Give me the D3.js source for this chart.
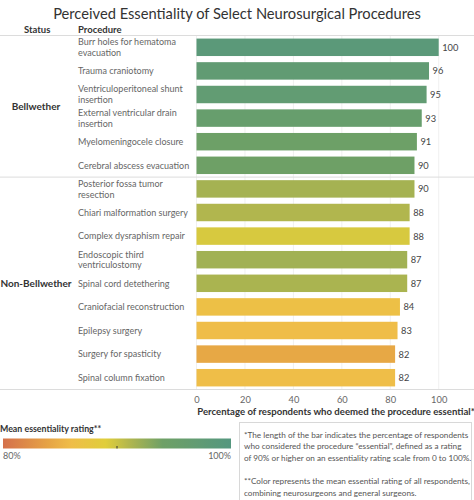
<!DOCTYPE html>
<html>
<head>
<meta charset="utf-8">
<script src="https://cdn.jsdelivr.net/npm/d3@7"></script>
<style>
html,body{margin:0;padding:0;background:#fff;}
svg{display:block;font-family:Lato,"Open Sans",sans-serif;}
</style>
</head>
<body>
<svg id="chart" width="474" height="500"></svg>
<script>
const procedures = [
  ["Burr holes for hematoma", "evacuation"],
  ["Trauma craniotomy"],
  ["Ventriculoperitoneal shunt", "insertion"],
  ["External ventricular drain", "insertion"],
  ["Myelomeningocele closure"],
  ["Cerebral abscess evacuation"],
  ["Posterior fossa tumor", "resection"],
  ["Chiari malformation surgery"],
  ["Complex dysraphism repair"],
  ["Endoscopic third", "ventriculostomy"],
  ["Spinal cord detethering"],
  ["Craniofacial reconstruction"],
  ["Epilepsy surgery"],
  ["Surgery for spasticity"],
  ["Spinal column fixation"]
];
const statuses = ["Bellwether","Bellwether","Bellwether","Bellwether","Bellwether","Bellwether",
  "Non-Bellwether","Non-Bellwether","Non-Bellwether","Non-Bellwether","Non-Bellwether",
  "Non-Bellwether","Non-Bellwether","Non-Bellwether","Non-Bellwether"];
const percentEssential = [100, 96, 95, 93, 91, 90, 90, 88, 88, 87, 87, 84, 83, 82, 82];
const meanRating = [98.5, 97.2, 97.0, 95.6, 94.3, 94.0, 91.6, 91.1, 89.4, 91.8, 91.4, 86.5, 86.0, 84.3, 86.1];
const statusGroups = ["Bellwether", "Non-Bellwether"];
const xTicks = [0, 20, 40, 60, 80, 100];
const legendDomain = [80, 100];
const legendLabels = ["80%", "100%"];
const titleText = "Perceived Essentiality of Select Neurosurgical Procedures";
const axisTitle = "Percentage of respondents who deemed the procedure essential*";
const noteLines = [
  "*The length of the bar indicates the percentage of respondents",
  "who considered the procedure \u201cessential\u201d, defined as  a rating",
  "of 90% or higher on an essentiality rating scale from 0 to 100%.",
  "",
  "**Color represents the mean essential rating of all respondents,",
  "combining neurosurgeons and general surgeons."
];

const svg = d3.select("#chart");
const W = 474;

const color = d3.scaleLinear()
  .domain([80, 84, 86, 89, 91, 94, 100])
  .range(["#d4704b", "#e6a445", "#efbd48", "#e0ce3b", "#b3b74d", "#6ea066", "#55977f"])
  .interpolate(d3.interpolateRgb)
  .clamp(true);

// Title
const title = svg.append("text")
  .attr("x", W/2).attr("y", 18.5)
  .attr("text-anchor", "middle")
  .attr("font-size", 17).attr("fill", "#333")
  .text(titleText);
const tl = title.node().getComputedTextLength();
if (tl > 0) title.attr("font-size", 17 * 368 / tl);

// Headers
svg.append("text").attr("x", 24).attr("y", 33).attr("font-size", 9.5)
  .attr("font-weight", "bold").attr("fill", "#333").text("Status");
svg.append("text").attr("x", 78).attr("y", 33).attr("font-size", 9.5)
  .attr("font-weight", "bold").attr("fill", "#333").text("Procedure");

const topY = 35.5, rowH = 23.6;
const idx = d3.range(procedures.length);
const y = d3.scaleBand().domain(idx).range([topY, topY + rowH * idx.length]).paddingInner(0.26).paddingOuter(0.13);
const x = d3.scaleLinear().domain([0, 100]).range([196.5, 438.7]);
const bottomY = topY + rowH * idx.length;

// gridlines
svg.append("g").selectAll("line").data(xTicks).join("line")
  .attr("x1", d => x(d)).attr("x2", d => x(d))
  .attr("y1", topY).attr("y2", bottomY)
  .attr("stroke", "#f0f0f0").attr("stroke-width", 1);

// horizontal separators
const groupBounds = [topY];
statusGroups.forEach(g => {
  const last = d3.max(idx.filter(i => statuses[i] === g));
  groupBounds.push(topY + rowH * (last + 1));
});
svg.append("g").selectAll("line").data(groupBounds).join("line")
  .attr("x1", 0).attr("x2", W)
  .attr("y1", d => d).attr("y2", d => d)
  .attr("stroke", "#dcdcdc").attr("stroke-width", 1);

// Status labels
statusGroups.forEach(g => {
  const rows = idx.filter(i => statuses[i] === g);
  const y0 = topY + rowH * d3.min(rows), y1 = topY + rowH * (d3.max(rows) + 1);
  svg.append("text").attr("x", 36).attr("y", (y0 + y1) / 2 + 3.5)
    .attr("text-anchor", "middle").attr("font-size", 10).attr("font-weight", "bold")
    .attr("fill", "#333").text(g);
});

// Procedure labels
const lab = svg.append("g").selectAll("text").data(idx).join("text")
  .attr("x", 78).attr("font-size", 9).attr("fill", "#666");
lab.each(function(i) {
  const lines = procedures[i];
  const cy = y(i) + y.bandwidth() / 2;
  const t = d3.select(this);
  lines.forEach((ln, k) => {
    t.append("tspan").attr("x", 78)
      .attr("y", cy + 3.3 + (k - (lines.length - 1) / 2) * 10.7)
      .text(ln);
  });
});

// Bars
svg.append("g").selectAll("rect").data(idx).join("rect")
  .attr("x", x(0)).attr("y", i => y(i))
  .attr("width", i => x(percentEssential[i]) - x(0))
  .attr("height", y.bandwidth())
  .attr("fill", i => color(meanRating[i]));

// Value labels
svg.append("g").selectAll("text").data(idx).join("text")
  .attr("x", i => x(percentEssential[i]) + 3.5)
  .attr("y", i => y(i) + y.bandwidth() / 2 + 3.5)
  .attr("font-size", 9.3).attr("fill", "#444")
  .text(i => percentEssential[i]);

// X axis
const axis = svg.append("g").attr("transform", `translate(0,${bottomY})`)
  .call(d3.axisBottom(x).tickValues(xTicks).tickSize(0).tickPadding(7));
axis.select(".domain").remove();
axis.selectAll("text").attr("font-size", 9.3).attr("fill", "#666")
  .attr("font-family", "Lato, 'Open Sans', sans-serif");

svg.append("text").attr("x", 336).attr("y", 414.5)
  .attr("text-anchor", "middle").attr("font-size", 9.6).attr("font-weight", "bold")
  .attr("fill", "#333").text(axisTitle);

// Legend
svg.append("text").attr("x", 0).attr("y", 432).attr("font-size", 8.8)
  .attr("font-weight", "bold").attr("fill", "#333").text("Mean essentiality rating**");
const defs = svg.append("defs");
const grad = defs.append("linearGradient").attr("id", "lg");
const lx = d3.scaleLinear().domain(legendDomain).range([3, 231]);
d3.range(0, 21).forEach(k => {
  const v = legendDomain[0] + k;
  grad.append("stop").attr("offset", (k / 20 * 100) + "%").attr("stop-color", color(v));
});
svg.append("rect").attr("x", lx(80)).attr("y", 438.5).attr("width", lx(100) - lx(80))
  .attr("height", 10).attr("fill", "url(#lg)");
svg.append("line").attr("x1", lx(90)).attr("x2", lx(90)).attr("y1", 446).attr("y2", 448.5)
  .attr("stroke", "#333").attr("stroke-width", 1);
svg.append("text").attr("x", lx(80)).attr("y", 458.5).attr("font-size", 9)
  .attr("fill", "#666").text(legendLabels[0]);
svg.append("text").attr("x", lx(100)).attr("y", 458.5).attr("font-size", 9)
  .attr("text-anchor", "end").attr("fill", "#666").text(legendLabels[1]);

// Note box
svg.append("rect").attr("x", 239.5).attr("y", 422.5).attr("width", 232).attr("height", 80)
  .attr("fill", "none").attr("stroke", "#d8d8d8");
svg.append("g").selectAll("text").data(noteLines).join("text")
  .attr("x", 244).attr("y", (d, k) => 437.5 + k * 11.7)
  .attr("font-size", 8.2).attr("fill", "#555")
  .text(d => d);
</script>
</body>
</html>
